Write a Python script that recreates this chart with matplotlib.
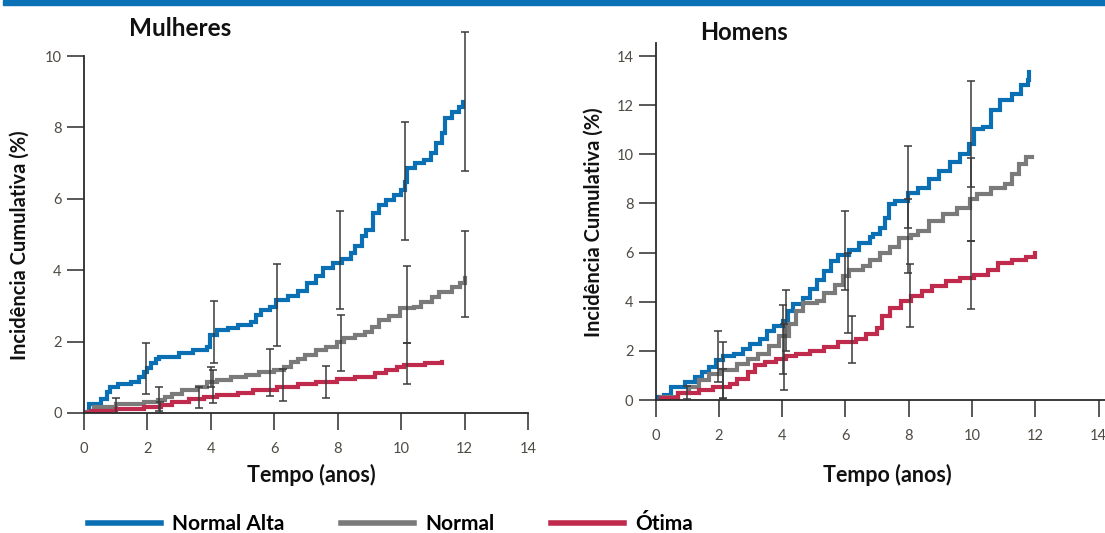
import matplotlib
matplotlib.use("Agg")
import matplotlib.pyplot as plt
from matplotlib.patches import Rectangle

plt.rcParams['font.family'] = ['Lato', 'DejaVu Sans']

# series labels / colours
series = ["Normal Alta", "Normal", "Ótima"]
colors = {"Normal Alta": "#0b6fb4", "Normal": "#7a7a7a", "Ótima": "#c02a4c"}

# ---- Mulheres (women) ----
w_alta_x = [0, 0.16, 0.55, 0.72, 0.83, 1.06, 1.49, 1.72, 1.88, 2.0, 2.1, 2.27, 2.38, 2.99, 3.43, 3.88, 3.97,
            4.2, 4.54, 4.87, 5.26, 5.43, 5.59, 5.87, 6.04, 6.43, 6.75, 7.04, 7.31, 7.53, 7.86, 8.14, 8.42,
            8.53, 8.75, 8.9, 9.12, 9.29, 9.51, 9.79, 10.0, 10.12, 10.17, 10.45, 10.73, 10.95, 11.11, 11.28,
            11.39, 11.61, 11.83, 11.96]
w_alta_y = [0.03, 0.26, 0.4, 0.59, 0.73, 0.8, 0.87, 1.01, 1.15, 1.25, 1.39, 1.5, 1.58, 1.67, 1.77, 1.86, 2.19,
            2.33, 2.39, 2.47, 2.56, 2.75, 2.89, 2.98, 3.17, 3.27, 3.41, 3.64, 3.83, 4.07, 4.21, 4.3, 4.49,
            4.68, 4.96, 5.13, 5.59, 5.83, 5.97, 6.11, 6.25, 6.48, 6.85, 6.99, 7.09, 7.27, 7.55, 7.83,
            8.25, 8.44, 8.58, 8.72]
w_norm_x = [0, 0.33, 1.0, 1.88, 2.33, 2.55, 2.77, 3.1, 3.55, 3.88, 4.2, 4.65, 5.1, 5.53, 5.98, 6.31, 6.53,
            6.75, 6.98, 7.31, 7.64, 7.97, 8.2, 8.53, 8.86, 9.08, 9.3, 9.63, 9.97, 10.4, 10.63, 10.96, 11.18,
            11.6, 11.85, 12.0]
w_norm_y = [0.03, 0.17, 0.26, 0.31, 0.36, 0.45, 0.54, 0.64, 0.73, 0.87, 0.93, 1.01, 1.06, 1.15, 1.2, 1.29,
            1.43, 1.52, 1.62, 1.76, 1.86, 2.0, 2.09, 2.19, 2.28, 2.42, 2.61, 2.71, 2.93, 2.97, 3.11, 3.25,
            3.39, 3.53, 3.65, 3.78]
w_otima_x = [0, 0.22, 1.0, 1.88, 2.44, 2.77, 3.32, 3.77, 4.2, 4.87, 5.32, 6.09, 6.75, 7.31, 7.97, 8.53,
             9.19, 9.52, 9.86, 10.08, 10.74, 11.3]
w_otima_y = [0.0, 0.07, 0.12, 0.17, 0.22, 0.31, 0.38, 0.45, 0.5, 0.56, 0.64, 0.73, 0.81, 0.87, 0.94, 1.01,
             1.11, 1.2, 1.3, 1.34, 1.41, 1.44]

# confidence intervals (x, low, high)
w_alta_ci_x = [1.96, 4.1, 6.09, 8.06, 10.13, 12.0]
w_alta_ci_lo = [0.53, 1.41, 1.88, 2.92, 4.84, 6.77]
w_alta_ci_hi = [1.95, 3.13, 4.18, 5.66, 8.15, 10.68]
w_norm_ci_x = [2.38, 4.0, 5.87, 8.1, 10.17, 12.0]
w_norm_ci_lo = [0.05, 0.74, 0.47, 1.19, 1.97, 2.7]
w_norm_ci_hi = [0.72, 1.3, 1.78, 2.75, 4.13, 5.1]
w_otima_ci_x = [1.01, 2.4, 3.63, 4.08, 6.29, 7.64, 10.2]
w_otima_ci_lo = [0.0, 0.0, 0.13, 0.29, 0.34, 0.42, 0.8]
w_otima_ci_hi = [0.41, 0.32, 0.74, 1.2, 1.23, 1.33, 1.95]

# ---- Homens (men) ----
m_alta_x = [0, 0.27, 0.49, 0.93, 1.26, 1.48, 1.7, 1.92, 2.14, 2.47, 2.75, 2.97, 3.3, 3.52, 3.74, 4.01, 4.18,
            4.34, 4.67, 4.89, 5.11, 5.33, 5.55, 5.77, 6.1, 6.43, 6.76, 6.87, 7.09, 7.25, 7.36, 7.58, 7.97,
            8.3, 8.63, 8.96, 9.29, 9.62, 9.89, 10.05, 10.33, 10.6, 10.88, 11.26, 11.54, 11.76, 11.81]
m_alta_y = [0.13, 0.2, 0.54, 0.74, 0.94, 1.14, 1.34, 1.61, 1.81, 1.88, 2.08, 2.28, 2.48, 2.82, 3.02, 3.22,
            3.62, 3.89, 4.16, 4.5, 4.9, 5.23, 5.64, 5.91, 6.11, 6.38, 6.64, 6.75, 7.0, 7.42, 7.96, 8.1, 8.44,
            8.64, 8.99, 9.33, 9.67, 10.01, 10.42, 11.04, 11.1, 11.79, 12.2, 12.47, 12.81, 13.02, 13.36]
m_norm_x = [0.16, 0.71, 1.04, 1.37, 1.7, 2.03, 2.58, 2.91, 3.24, 3.57, 3.9, 4.23, 4.45, 4.67, 5.11, 5.33,
            5.66, 5.93, 6.1, 6.54, 6.76, 7.09, 7.42, 7.69, 8.08, 8.3, 8.63, 9.07, 9.51, 9.95, 10.16, 10.6,
            11.04, 11.26, 11.48, 11.7, 11.9]
m_norm_y = [0.13, 0.27, 0.54, 0.81, 1.07, 1.21, 1.48, 1.68, 1.88, 2.21, 2.62, 3.09, 3.62, 3.96, 4.03, 4.36,
            4.7, 5.03, 5.3, 5.44, 5.7, 5.97, 6.24, 6.58, 6.71, 6.87, 7.28, 7.55, 7.83, 8.17, 8.37, 8.64,
            8.78, 9.19, 9.6, 9.87, 9.9]
m_otima_x = [0.16, 0.71, 1.37, 1.81, 2.36, 2.58, 2.91, 3.13, 3.46, 3.79, 4.12, 4.45, 4.89, 5.33, 5.77,
             6.32, 6.65, 6.98, 7.14, 7.42, 7.75, 8.08, 8.41, 8.74, 9.18, 9.62, 10.05, 10.49, 10.82, 11.26,
             11.7, 11.98]
m_otima_y = [0.07, 0.27, 0.4, 0.54, 0.64, 0.87, 1.14, 1.41, 1.54, 1.68, 1.81, 1.88, 2.01, 2.15, 2.35, 2.48,
             2.68, 2.95, 3.42, 3.76, 4.03, 4.23, 4.43, 4.63, 4.83, 4.97, 5.1, 5.3, 5.57, 5.7, 5.84, 5.97]

m_alta_ci_x = [1.96, 4.12, 6.0, 7.98, 9.98]
m_alta_ci_lo = [0.74, 2.01, 4.48, 7.0, 8.65]
m_alta_ci_hi = [2.82, 4.46, 7.7, 10.33, 13.0]
m_norm_ci_x = [2.12, 4.01, 6.07, 7.98, 9.98]
m_norm_ci_lo = [0.1, 1.05, 2.74, 5.18, 6.47]
m_norm_ci_hi = [2.35, 3.87, 6.0, 8.2, 9.83]
m_otima_ci_x = [1.0, 2.12, 4.05, 6.19, 8.05, 9.98]
m_otima_ci_lo = [0.05, 0.05, 0.4, 1.49, 2.98, 3.69]
m_otima_ci_hi = [0.55, 1.27, 3.1, 3.42, 5.53, 6.47]

xticks = [0, 2, 4, 6, 8, 10, 12, 14]

W, H = 1105, 533
fig = plt.figure(figsize=(W / 100, H / 100), dpi=100)
fig.patches.append(Rectangle((0.003, 1 - 5 / H), 1, 5 / H, transform=fig.transFigure,
                             color="#0a71b6", zorder=0))


def px_axes(x0, y_top, x1, y_bot):
    return fig.add_axes([x0 / W, 1 - y_bot / H, (x1 - x0) / W, (y_bot - y_top) / H])


def style(ax):
    for s in ["top", "right"]:
        ax.spines[s].set_visible(False)
    for s in ["left", "bottom"]:
        ax.spines[s].set_color("#2b2b2b")
        ax.spines[s].set_linewidth(1.3)
    ax.tick_params(direction="out", length=12, width=1.1, color="#2b2b2b",
                   labelsize=10.5, labelcolor="#4f4a44")
    ax.tick_params(axis="x", pad=9)
    ax.tick_params(axis="y", pad=4)
    ax.set_xticks(xticks)


def draw(ax, data):
    for name, (xs, ys, cx, lo, hi) in data.items():
        ax.plot(xs, ys, drawstyle="steps-post", color=colors[name], lw=3, label=name,
                solid_joinstyle="miter", zorder=2)
    for name, (xs, ys, cx, lo, hi) in data.items():
        mid = [(a + b) / 2 for a, b in zip(lo, hi)]
        err = [[m - a for m, a in zip(mid, lo)], [b - m for m, b in zip(mid, hi)]]
        eb = ax.errorbar(cx, mid, yerr=err, fmt="none", ecolor="#3a3a3a", elinewidth=1.1,
                         capsize=3.2, capthick=1.1, zorder=3)
        for art in eb.lines[1] + eb.lines[2]:
            art.set_clip_on(False)


ax1 = px_axes(84, 56, 528, 413)
style(ax1)
draw(ax1, {
    "Normal Alta": (w_alta_x, w_alta_y, w_alta_ci_x, w_alta_ci_lo, w_alta_ci_hi),
    "Normal": (w_norm_x, w_norm_y, w_norm_ci_x, w_norm_ci_lo, w_norm_ci_hi),
    "Ótima": (w_otima_x, w_otima_y, w_otima_ci_x, w_otima_ci_lo, w_otima_ci_hi),
})
ax1.set_xlim(0, 14)
ax1.set_ylim(0, 10)
ax1.set_yticks([0, 2, 4, 6, 8, 10])

ax2 = px_axes(655.6, 43, 1105, 400)
style(ax2)
draw(ax2, {
    "Normal Alta": (m_alta_x, m_alta_y, m_alta_ci_x, m_alta_ci_lo, m_alta_ci_hi),
    "Normal": (m_norm_x, m_norm_y, m_norm_ci_x, m_norm_ci_lo, m_norm_ci_hi),
    "Ótima": (m_otima_x, m_otima_y, m_otima_ci_x, m_otima_ci_lo, m_otima_ci_hi),
})
ax2.set_xlim(0, 14.2)
ax2.set_ylim(0, 14.53)
ax2.set_yticks([0, 2, 4, 6, 8, 10, 12, 14])

bold = dict(fontweight="bold", color="#111111")
fig.text(180 / W, 1 - 29 / H, "Mulheres", ha="center", va="center", fontsize=17.5, **bold)
fig.text(744 / W, 1 - 33 / H, "Homens", ha="center", va="center", fontsize=17, **bold)
fig.text(20 / W, 1 - 245 / H, "Incidência Cumulativa (%)", rotation=90, ha="center", va="center",
         fontsize=14.5, **bold)
fig.text(594 / W, 1 - 222 / H, "Incidência Cumulativa (%)", rotation=90, ha="center", va="center",
         fontsize=14.5, **bold)
fig.text(311 / W, 1 - 475 / H, "Tempo (anos)", ha="center", va="center", fontsize=15.5, **bold)
fig.text(887 / W, 1 - 475 / H, "Tempo (anos)", ha="center", va="center", fontsize=15.5, **bold)

handles, labels = ax1.get_legend_handles_labels()
leg = fig.legend(handles, labels, loc="center left", bbox_to_anchor=(88 / W, 1 - 524 / H),
                 ncol=3, frameon=False, borderpad=0, borderaxespad=0, handlelength=3.5,
                 handletextpad=0.55, columnspacing=2.7,
                 prop={"family": ["Lato", "DejaVu Sans"], "weight": "bold", "size": 15})
for line in leg.get_lines():
    line.set_linewidth(4)

fig.savefig("out.png", dpi=100)
